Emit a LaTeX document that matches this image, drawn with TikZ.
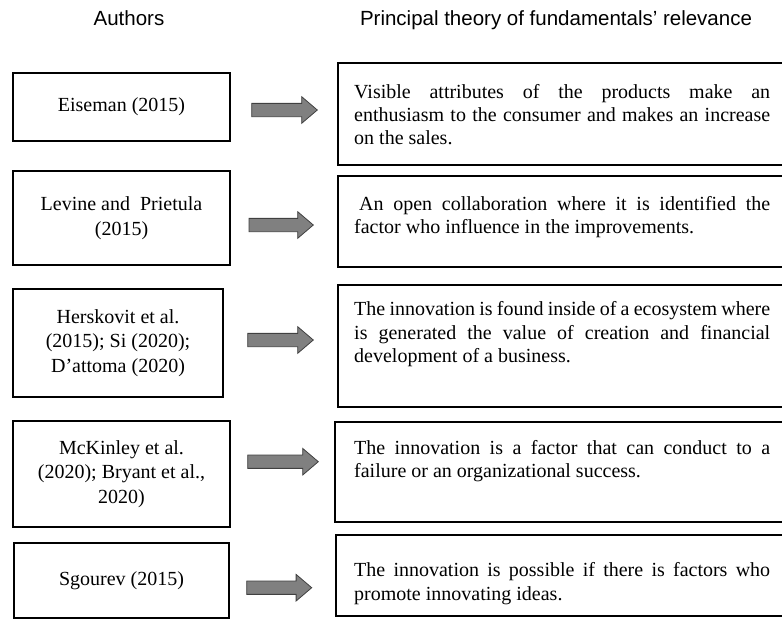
\documentclass[tikz,border=0pt]{standalone}
\usepackage{fontspec}
\setmainfont{Liberation Serif}
\newfontfamily\hdrfont{Liberation Sans}
\definecolor{arrowgray}{HTML}{808080}
\definecolor{arrowedge}{HTML}{404040}
\begin{document}
\begin{tikzpicture}[x=1pt,y=-1pt,
  authbox/.style={draw=black, line width=1.5pt, inner sep=0pt, align=center,
    font=\fontsize{20}{24.5}\selectfont},
  theorybox/.style={draw=black, line width=1.5pt, inner sep=0pt, anchor=north west,
    minimum width=480pt},
  theorytext/.style={anchor=north west, inner sep=0pt, text width=416pt, align=justify,
    font=\fontsize{20}{23.3}\selectfont},
  header/.style={anchor=base, inner sep=0pt, font=\hdrfont\fontsize{20.5}{24}\selectfont},
  pics/barrow/.style={code={
    \draw[fill=arrowgray, draw=arrowedge, line width=0.8pt]
      (0,-6.65) -- (#1-15.6,-6.65) -- (#1-15.6,-13.3) -- (#1,0)
      -- (#1-15.6,13.3) -- (#1-15.6,6.65) -- (0,6.65) -- cycle;}}
]
\useasboundingbox (0,0) rectangle (782,619);
\clip (0,0) rectangle (782,619);

% headers
\node[header] (h1) at (129,25) {Authors};
\node[header] (h2) at (556,25) {Principal theory of fundamentals’ relevance};

% author boxes
\node[authbox, minimum width=217pt, minimum height=68pt] (b1) at (121.5,107) {Eiseman (2015)};
\node[authbox, minimum width=217pt, minimum height=94pt] (b2) at (121.5,218) {Levine and\ \ Prietula\\(2015)};
\node[authbox, minimum width=210pt, minimum height=108pt] (b3) at (118,343) {Herskovit et al.\\(2015); Si (2020);\\D’attoma (2020)};
\node[authbox, minimum width=217pt, minimum height=106pt] (b4) at (121.5,474) {McKinley et al.\\(2020); Bryant et al.,\\2020)};
\node[authbox, minimum width=215pt, minimum height=75pt] (b5) at (121.5,580.5) {Sgourev (2015)};

% arrows
\pic (a1) at (251.7,110) {barrow=65.6};
\pic (a2) at (249,225) {barrow=64.3};
\pic (a3) at (247.7,340) {barrow=65.6};
\pic (a4) at (247.7,461.7) {barrow=70.6};
\pic (a5) at (246.7,587.7) {barrow=65};

% theory boxes
\node[theorybox, minimum height=102pt] (r1) at (337,62) {};
\node[theorybox, minimum height=91pt] (r2) at (337,175) {};
\node[theorybox, minimum height=122pt] (r3) at (337,284) {};
\node[theorybox, minimum height=100pt] (r4) at (334,421) {};
\node[theorybox, minimum height=81pt] (r5) at (335,534) {};

% theory texts
\node[theorytext] (t1) at (354,83) {\rule{0pt}{15pt}Visible attributes of the products make an\linebreak enthusiasm to the consumer and makes an increase\linebreak on the sales.};
\node[theorytext] (t2) at (354,195) {\rule{0pt}{15pt}\hspace*{5pt}An open collaboration where it is identified the\linebreak factor who influence in the improvements.};
\node[theorytext] (t3) at (354,300.7) {\rule{0pt}{15pt}The innovation is found inside of a ecosystem where\linebreak is generated the value of creation and financial\linebreak development of a business.};
\node[theorytext] (t4) at (354,439) {\rule{0pt}{15pt}The innovation is a factor that can conduct to a\linebreak failure or an organizational success.};
\node[theorytext] (t5) at (354,561.7) {\rule{0pt}{15pt}The innovation is possible if there is factors who\linebreak promote innovating ideas.};
\end{tikzpicture}
\end{document}
